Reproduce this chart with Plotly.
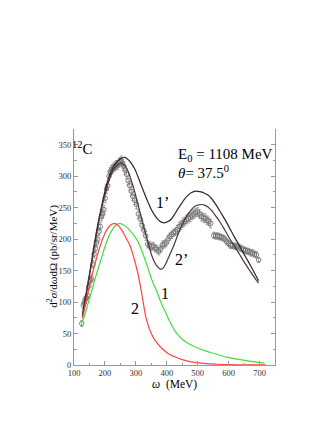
import plotly.graph_objects as go

# ---- experimental data (omega in MeV, cross section in pb/sr/MeV) ----
omega_exp = [125, 130, 133, 136, 140, 144, 148, 153, 157, 161, 165, 169, 173, 177, 181, 185,
             189, 193, 197, 201, 205, 209, 213, 217, 221, 225, 229, 233, 237, 241, 245, 249,
             253, 257, 261, 265, 270, 275, 280, 285, 290, 296, 302, 308, 314, 320, 326, 332,
             338, 344, 350, 356, 362, 368, 374, 380, 386, 392, 398, 404, 410, 416, 422, 428,
             434, 440, 446, 452, 458, 464, 470, 476, 482, 488, 494, 500, 506, 512, 518, 524,
             530, 536, 542, 552, 558, 564, 570, 576, 582, 588, 594, 600, 606, 612, 618, 624,
             630, 636, 642, 648, 654, 660, 666, 672, 678, 684, 690, 697]
sigma_exp = [66, 95, 99, 104, 107, 110, 125, 135, 137, 160, 176, 185, 194, 200, 212, 220,
             236, 240, 247, 265, 280, 285, 300, 307, 310, 312, 314, 316, 318, 318, 321, 323,
             325, 320, 316, 310, 303, 293, 285, 276, 268, 262, 255, 240, 232, 222, 214, 205,
             192, 190, 188, 189, 186, 184, 181, 184, 191, 192, 194, 200, 204, 207, 210, 212,
             215, 220, 222, 226, 228, 231, 233, 235, 238, 240, 242, 243, 240, 236, 234, 233,
             230, 228, 225, 206, 205, 205, 204, 203, 202, 200, 196, 193, 190, 190, 189, 188,
             189, 186, 185, 183, 182, 181, 180, 178, 178, 176, 175, 167]
err_exp = [5, 5, 5, 5, 5, 5, 6, 6, 6, 6, 6, 6, 6, 6, 6, 6,
           7, 7, 7, 7, 7, 7, 7, 7, 7, 7, 7, 7, 7, 7, 7, 7,
           7, 7, 7, 7, 7, 7, 7, 7, 7, 7, 7, 7, 7, 7, 7, 7,
           6, 6, 6, 6, 6, 6, 6, 6, 6, 6, 6, 6, 6, 6, 6, 6,
           7, 7, 7, 7, 7, 7, 7, 7, 7, 7, 7, 7, 7, 7, 7, 7,
           7, 7, 7, 5, 5, 5, 5, 5, 5, 5, 5, 5, 5, 5, 5, 5,
           5, 5, 5, 5, 5, 5, 5, 5, 5, 5, 5, 4]

# ---- curve 1' ----
omega_1p = [127, 135, 145, 157, 170, 189, 200, 216, 230, 243, 255, 265, 276, 286, 297, 307,
            318, 329, 340, 350, 361, 372, 383, 393, 404, 415, 426, 436, 447, 458, 469, 480,
            490, 500, 511, 522, 533, 544, 560, 576, 593, 609, 625, 641, 657, 673, 685, 697]
sigma_1p = [80, 102, 130, 165, 205, 252, 276, 303, 317, 325, 329, 330, 326, 320, 311, 299,
            285, 271, 258, 247, 238, 231, 227, 226, 228, 232, 240, 248, 256, 264, 270, 274,
            276, 276, 275, 273, 270, 265, 254, 241, 227, 212, 198, 184, 170, 156, 145, 134]

# ---- curve 2' ----
omega_2p = [127, 135, 145, 157, 170, 189, 200, 216, 230, 243, 252, 262, 275, 286, 297, 307,
            318, 329, 340, 350, 361, 372, 380, 388, 396, 405, 415, 426, 436, 447, 458, 469,
            480, 490, 501, 512, 522, 533, 544, 555, 571, 587, 603, 619, 635, 651, 667, 682, 697]
sigma_2p = [77, 98, 127, 162, 200, 248, 270, 297, 312, 319, 321, 318, 308, 292, 274, 255,
            234, 213, 194, 176, 163, 155, 152, 154, 160, 170, 181, 194, 207, 220, 231, 240,
            247, 252, 254, 255, 254, 251, 246, 239, 228, 215, 201, 189, 176, 163, 151, 140, 130]

# ---- curve 1 (green) ----
omega_1 = [127, 135, 145, 157, 170, 189, 205, 220, 235, 248, 262, 277, 292, 307, 322, 337,
           352, 367, 380, 395, 410, 431, 450, 474, 500, 544, 598, 662, 716]
sigma_1 = [68, 80, 97, 117, 140, 170, 195, 212, 222, 225, 222, 216, 207, 196, 178, 157,
           135, 118, 101, 85, 69, 51, 41, 33, 27, 19.5, 12, 6.5, 3]

# ---- curve 2 (red) ----
omega_2 = [127, 130, 138, 146, 160, 173, 190, 205, 218, 230, 242, 255, 268, 281, 295, 307,
           322, 334, 350, 365, 383, 405, 426, 450, 480, 520, 560, 600, 650, 720]
sigma_2 = [74, 80, 98, 117, 146, 170, 197, 214, 222, 225, 222, 214, 202, 190, 168, 145,
           105, 73, 50, 37, 27, 18, 13, 8.5, 5, 2.5, 1.2, 0.5, 0.2, 0.1]

SERIF = "Liberation Serif"

fig = go.Figure()

fig.add_trace(go.Scatter(
    x=omega_exp, y=sigma_exp, mode="markers",
    marker=dict(symbol="circle-open", size=4.5, color="#707070", line=dict(width=0.9)),
    error_y=dict(type="data", array=err_exp, color="#808080", thickness=0.7, width=1.5),
    showlegend=False))

for xs, ys, col in [(omega_1p, sigma_1p, "#2e2424"), (omega_2p, sigma_2p, "#4e3434"),
                    (omega_1, sigma_1, "#3ee03e"), (omega_2, sigma_2, "#ff4444")]:
    fig.add_trace(go.Scatter(x=xs, y=ys, mode="lines", line=dict(color=col, width=1.2, shape="spline"),
                             showlegend=False))

annots = [
    dict(x=126, y=345, text="<sup>12</sup>C", size=15),
    dict(x=430, y=334, text="E<sub>0</sub> = 1108 MeV", size=15, xanchor="left"),
    dict(x=430, y=307, text="<i>θ</i>= 37.5<sup>0</sup>", size=15, xanchor="left"),
    dict(x=386, y=258, text="1’", size=16),
    dict(x=447, y=168, text="2’", size=16),
    dict(x=393, y=114, text="1", size=16),
    dict(x=297, y=90, text="2", size=16),
]
for a in annots:
    fig.add_annotation(x=a["x"], y=a["y"], xref="x", yref="y", text=a["text"], showarrow=False,
                       xanchor=a.get("xanchor", "center"), yanchor="middle",
                       font=dict(family=SERIF, size=a["size"], color="black"))

# axis titles (paper coordinates, outside the plot area)
fig.add_annotation(x=-0.105, y=0.463, xref="paper", yref="paper", showarrow=False,
                   text="d<sup>2</sup><i>σ</i>/d<i>ω</i>dΩ (pb/sr/MeV)", textangle=-90,
                   xanchor="center", yanchor="middle",
                   font=dict(family=SERIF, size=11, color="black"))
fig.add_annotation(x=0.5, y=-0.082, xref="paper", yref="paper", showarrow=False,
                   text="<i>ω</i>  (MeV)", xanchor="center", yanchor="middle",
                   font=dict(family=SERIF, size=11.5, color="black"))

axis_common = dict(showline=True, linecolor="#999999", linewidth=1, ticks="inside", ticklen=4,
                   tickcolor="#999999", showgrid=False, zeroline=False,
                   tickfont=dict(family=SERIF, size=8.5, color="#333333"))

fig.update_xaxes(range=[100, 750], tickvals=[100, 200, 300, 400, 500, 600, 700],
                 minor=dict(tickvals=[150, 250, 350, 450, 550, 650, 750], ticks="inside", ticklen=2.5, tickcolor="#999999"),
                 mirror=False, **axis_common)
fig.update_yaxes(range=[0, 375], tickvals=[0, 50, 100, 150, 200, 250, 300, 350],
                 minor=dict(tickvals=[25, 75, 125, 175, 225, 275, 325, 375], ticks="inside", ticklen=2.5, tickcolor="#999999"),
                 mirror="ticks", **axis_common)

fig.update_layout(width=327, height=423, margin=dict(l=66, r=60, t=121, b=66),
                  paper_bgcolor="white", plot_bgcolor="white", showlegend=False)

fig.write_html("out.html")
